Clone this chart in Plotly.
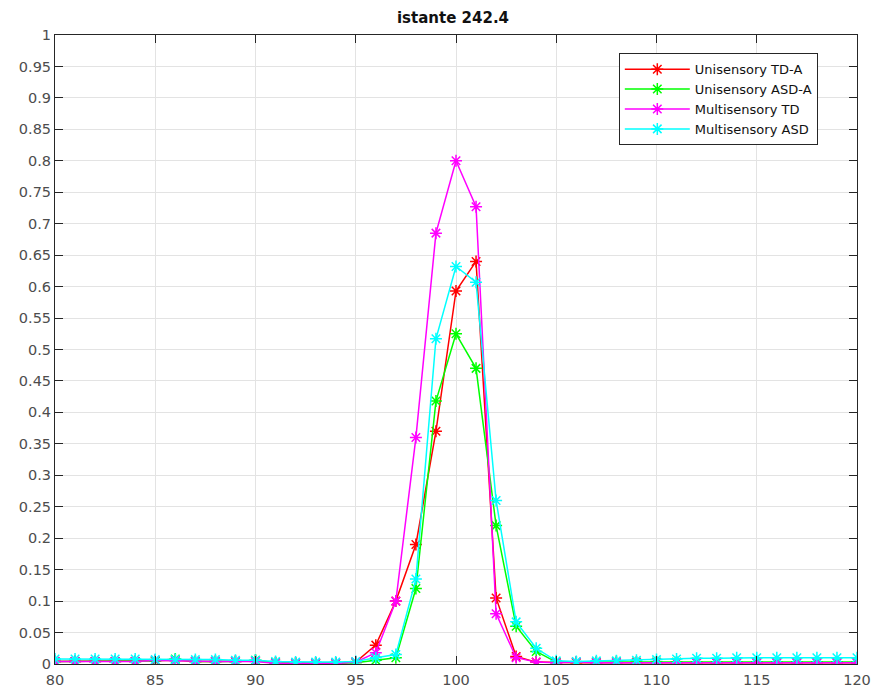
import plotly.graph_objects as go

# Spatial positions (x axis) sampled at unit spacing
positions = list(range(80, 121))

# Activity of each network at instant 242.4
uni_td_a = [0.004, 0.004, 0.004, 0.004, 0.004, 0.005, 0.006, 0.004, 0.004, 0.004,
            0.005, 0.002, 0.001, 0.001, 0.001, 0.003, 0.03, 0.10, 0.19, 0.37,
            0.593, 0.64, 0.105, 0.012, 0.003, 0.002, 0.002, 0.002, 0.002, 0.002,
            0.002, 0.002, 0.002, 0.002, 0.002, 0.002, 0.002, 0.002, 0.002, 0.002, 0.002]
uni_asd_a = [0.004, 0.004, 0.004, 0.004, 0.004, 0.005, 0.008, 0.004, 0.004, 0.004,
             0.006, 0.002, 0.001, 0.001, 0.001, 0.002, 0.006, 0.01, 0.12, 0.418,
             0.525, 0.47, 0.22, 0.06, 0.02, 0.003, 0.003, 0.003, 0.004, 0.003,
             0.003, 0.003, 0.003, 0.003, 0.003, 0.003, 0.003, 0.003, 0.003, 0.003, 0.003]
multi_td = [0.004, 0.004, 0.004, 0.004, 0.004, 0.006, 0.005, 0.004, 0.004, 0.004,
            0.004, 0.001, 0.001, 0.001, 0.001, 0.003, 0.018, 0.10, 0.36, 0.685,
            0.80, 0.727, 0.08, 0.01, 0.003, 0.002, 0.003, 0.002, 0.002, 0.002,
            0.002, 0.002, 0.002, 0.002, 0.002, 0.002, 0.002, 0.002, 0.002, 0.002, 0.002]
multi_asd = [0.008, 0.008, 0.008, 0.008, 0.008, 0.007, 0.007, 0.007, 0.007, 0.006,
             0.006, 0.004, 0.003, 0.003, 0.003, 0.004, 0.01, 0.015, 0.135, 0.517,
             0.632, 0.607, 0.26, 0.067, 0.025, 0.005, 0.004, 0.005, 0.005, 0.006,
             0.007, 0.008, 0.009, 0.009, 0.01, 0.01, 0.01, 0.01, 0.01, 0.01, 0.01]

series = [
    ("Unisensory TD-A", uni_td_a, "#ff0000"),
    ("Unisensory ASD-A", uni_asd_a, "#00ff00"),
    ("Multisensory TD", multi_td, "#ff00ff"),
    ("Multisensory ASD", multi_asd, "#00ffff"),
]

fig = go.Figure()
for name, vals, color in series:
    fig.add_trace(go.Scatter(
        x=positions, y=vals, name=name, mode="lines+markers",
        line=dict(color=color, width=1.5),
        marker=dict(symbol="asterisk-open", size=10,
                    line=dict(color=color, width=1.5), color=color),
    ))

axis_common = dict(
    showgrid=True, gridcolor="#e3e3e3", gridwidth=1,
    showline=True, linecolor="#262626", linewidth=1, mirror="ticks",
    ticks="inside", ticklen=8, tickcolor="#262626", tickwidth=1,
    zeroline=False, automargin=False,
    tickfont=dict(family="DejaVu Sans, sans-serif", size=14.5, color="#4d4d4d"),
)

fig.update_layout(
    width=873, height=693,
    margin=dict(l=55, r=16, t=35, b=29),
    paper_bgcolor="white", plot_bgcolor="white",
    title=dict(text="<b>istante 242.4</b>", x=453 / 873, xanchor="center",
               y=1 - 18 / 693, yanchor="middle",
               font=dict(family="DejaVu Sans, sans-serif", size=15, color="#111111")),
    xaxis=dict(range=[80, 120], dtick=5, tick0=80, ticklabelstandoff=3, **axis_common),
    yaxis=dict(range=[0, 1], dtick=0.05, tick0=0, tickformat="~g", **axis_common),
    legend=dict(
        x=0.703, y=0.971, xanchor="left", yanchor="top",
        bgcolor="white", bordercolor="#262626", borderwidth=1,
        font=dict(family="DejaVu Sans, sans-serif", size=13, color="#111111"),
        tracegroupgap=0, itemwidth=65,
    ),
    showlegend=True,
)

fig.write_html("out.html")
